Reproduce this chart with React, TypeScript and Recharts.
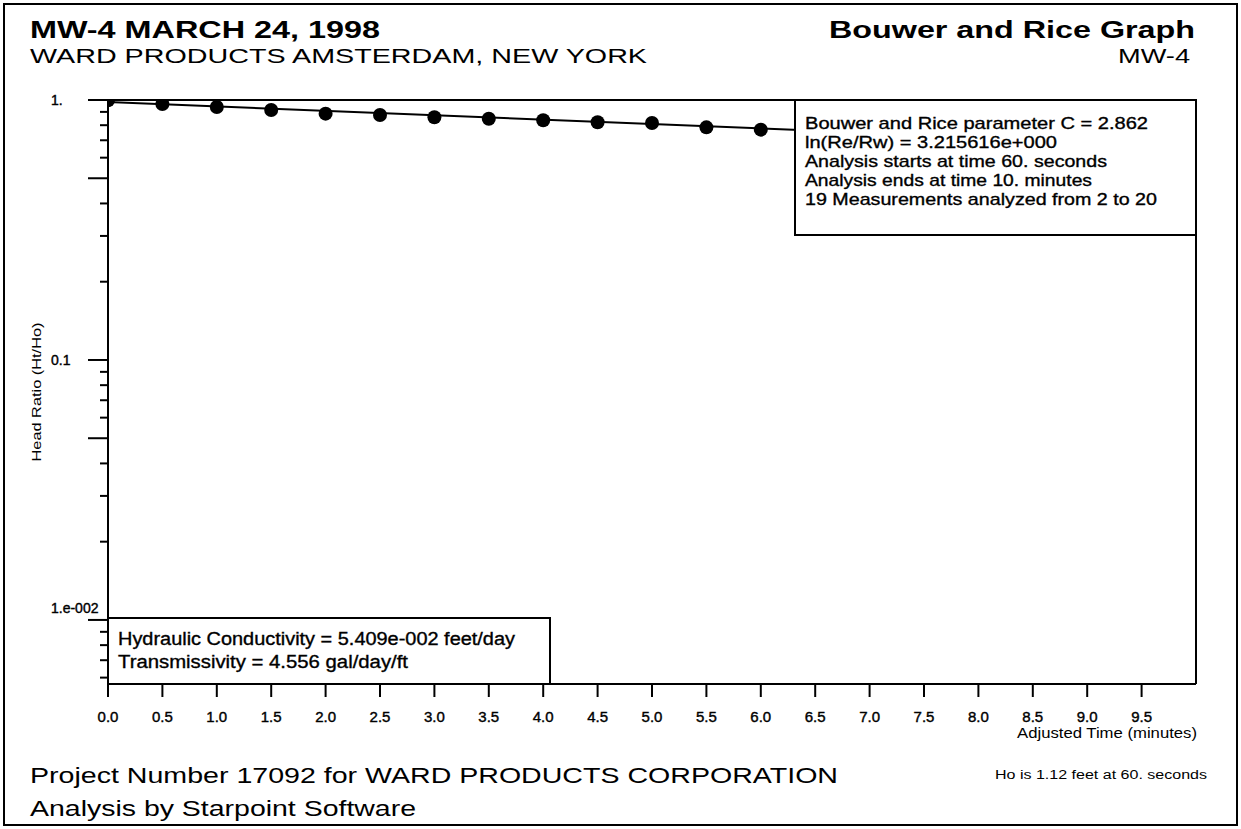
import React from "react";
import { ComposedChart, Line, Scatter, XAxis, YAxis } from "recharts";

// measured points (minutes, Ht/Ho)
const times = [0, 0.5, 1.0, 1.5, 2.0, 2.5, 3.0, 3.5, 4.0, 4.5, 5.0, 5.5, 6.0];
const headRatio = [0.997, 0.965, 0.94, 0.915, 0.886, 0.876, 0.858, 0.847, 0.836, 0.821, 0.816, 0.785, 0.769];

// straight-line fit (log scale)
const fitTimes = [0, 10];
const fitRatio = [0.982, 0.666];

const xTicks = [0, 0.5, 1, 1.5, 2, 2.5, 3, 3.5, 4, 4.5, 5, 5.5, 6, 6.5, 7, 7.5, 8, 8.5, 9, 9.5];
const yTicks = [
  1, 0.9, 0.8, 0.7, 0.6, 0.5, 0.4, 0.3, 0.2,
  0.1, 0.09, 0.08, 0.07, 0.06, 0.05, 0.04, 0.03, 0.02,
  0.01, 0.009, 0.008, 0.007, 0.006,
];
const yLabels: Record<string, string> = { "1": "1.", "0.1": "0.1", "0.01": "1.e-002" };
const yLongTicks = [1, 0.5, 0.1, 0.05, 0.01];

const infoLines = [
  "Bouwer and Rice parameter C = 2.862",
  "ln(Re/Rw) = 3.215616e+000",
  "Analysis starts at time 60. seconds",
  "Analysis ends at time 10. minutes",
  "19 Measurements analyzed from 2 to 20",
];
const infoWidths = [343, 252, 302, 287, 352];
const resultLines = [
  "Hydraulic Conductivity = 5.409e-002 feet/day",
  "Transmissivity = 4.556 gal/day/ft",
];
const resultWidths = [397, 290];

const points = times.map((t, i) => ({ t, ratio: headRatio[i] }));
const fit = fitTimes.map((t, i) => ({ t, ratio: fitRatio[i] }));

const FONT = "'Liberation Sans', Arial, sans-serif";

const YTick = (props: any) => {
  const { x, y, payload } = props;
  const v = payload.value;
  const len = yLongTicks.includes(v) ? 20 : 8;
  const label = yLabels[String(v)];
  return (
    <g>
      <line x1={x - len} x2={x} y1={y} y2={y} stroke="#000" strokeWidth={2} />
      {label && (
        <text
          x={x - 57}
          y={v === 0.01 ? y - 12 : y}
          dy={5}
          fontSize={14}
          fill="#000"
          stroke="#000"
          strokeWidth={0.4}
          fontFamily={FONT}
        >
          {label}
        </text>
      )}
    </g>
  );
};

const XTick = (props: any) => {
  const { x, y, payload } = props;
  return (
    <g>
      <line x1={x} x2={x} y1={y} y2={y + 13} stroke="#000" strokeWidth={2} />
      <text
        x={x}
        y={y + 38}
        textAnchor="middle"
        fontSize={15}
        fill="#000"
        stroke="#000"
        strokeWidth={0.4}
        fontFamily={FONT}
      >
        {payload.value.toFixed(1)}
      </text>
    </g>
  );
};

const Txt = ({ x, y, size, len, bold, heavy, children }: any) => (
  <text
    x={x}
    y={y}
    fontSize={size}
    fontWeight={bold ? "bold" : "normal"}
    textLength={len}
    lengthAdjust="spacingAndGlyphs"
    fontFamily={FONT}
    fill="#000"
    stroke={heavy ? "#000" : "none"}
    strokeWidth={heavy ? 0.35 : 0}
  >
    {children}
  </text>
);

export default function App() {
  return (
    <div style={{ position: "absolute", left: 0, top: 0, width: 1241, height: 829, background: "#fff" }}>
      <ComposedChart
        width={1241}
        height={829}
        margin={{ top: 100, right: 45, bottom: 115, left: 48 }}
      >
        <XAxis
          type="number"
          dataKey="t"
          domain={[0, 10]}
          ticks={xTicks}
          interval={0}
          allowDataOverflow
          tick={<XTick />}
          tickSize={0}
          tickMargin={0}
          tickLine={false}
          axisLine={{ stroke: "#000", strokeWidth: 2 }}
          height={30}
        />
        <YAxis
          type="number"
          dataKey="ratio"
          scale="log"
          domain={[0.00567, 1]}
          ticks={yTicks}
          interval={0}
          allowDataOverflow
          tick={<YTick />}
          tickSize={0}
          tickMargin={0}
          tickLine={false}
          axisLine={{ stroke: "#000", strokeWidth: 2 }}
          width={60}
        />
        <Line
          data={fit}
          dataKey="ratio"
          type="linear"
          stroke="#000"
          strokeWidth={2}
          dot={false}
          isAnimationActive={false}
        />
        <Scatter
          data={points}
          dataKey="ratio"
          fill="#000"
          shape={(p: any) => <circle cx={p.cx} cy={p.cy} r={7} fill="#000" />}
          isAnimationActive={false}
        />
      </ComposedChart>

      <svg
        width={1241}
        height={829}
        style={{ position: "absolute", left: 0, top: 0, pointerEvents: "none" }}
      >
        <rect x={4} y={4} width={1233} height={821} fill="none" stroke="#000" strokeWidth={2} />
        <line x1={108} x2={1196} y1={100} y2={100} stroke="#000" strokeWidth={2} />
        <line x1={1196} x2={1196} y1={100} y2={684} stroke="#000" strokeWidth={2} />

        <Txt x={30} y={38} size={23} len={350} bold>MW-4 MARCH 24, 1998</Txt>
        <Txt x={30} y={63} size={21} len={617}>WARD PRODUCTS AMSTERDAM, NEW YORK</Txt>
        <Txt x={829} y={38} size={23} len={366} bold>Bouwer and Rice Graph</Txt>
        <Txt x={1118} y={63} size={21} len={72}>MW-4</Txt>

        <rect x={795} y={100} width={401} height={135} fill="#fff" stroke="#000" strokeWidth={2} />
        {infoLines.map((s, i) => (
          <Txt key={s} x={805} y={129 + i * 19} size={17} len={infoWidths[i]} heavy>{s}</Txt>
        ))}

        <rect x={108} y={618} width={442} height={66} fill="#fff" stroke="#000" strokeWidth={2} />
        {resultLines.map((s, i) => (
          <Txt key={s} x={118} y={645 + i * 23} size={18} len={resultWidths[i]} heavy>{s}</Txt>
        ))}

        <g transform="translate(41,392) rotate(-90)">
          <text
            x={0}
            y={0}
            textAnchor="middle"
            fontSize={12}
            textLength={139}
            lengthAdjust="spacingAndGlyphs"
            fontFamily={FONT}
          >
            Head Ratio (Ht/Ho)
          </text>
        </g>
        <Txt x={1017} y={738} size={14} len={180}>Adjusted Time (minutes)</Txt>

        <Txt x={30} y={783} size={22} len={808}>Project Number 17092 for WARD PRODUCTS CORPORATION</Txt>
        <Txt x={30} y={816} size={22} len={386}>Analysis by Starpoint Software</Txt>
        <Txt x={995} y={779} size={12} len={212}>Ho is 1.12 feet at 60. seconds</Txt>
      </svg>
    </div>
  );
}
